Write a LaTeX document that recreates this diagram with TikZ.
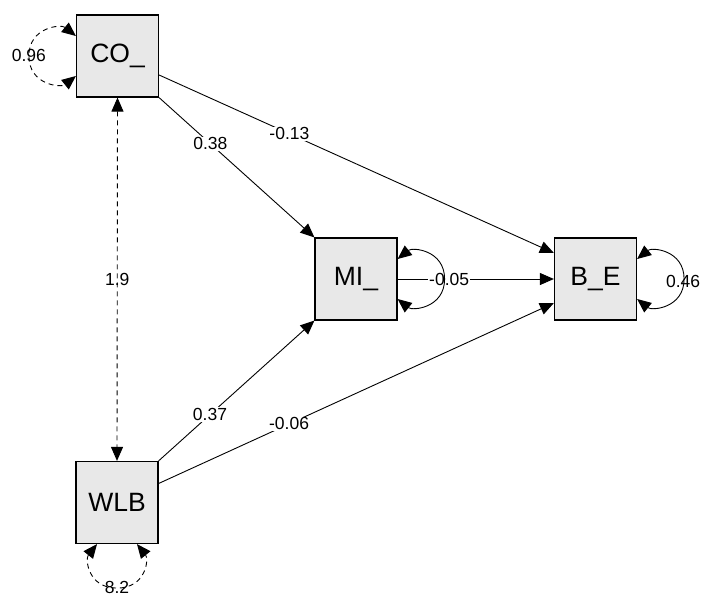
\documentclass[tikz,border=0pt]{standalone}
\usepackage{fontspec}
\setmainfont{Liberation Sans}
\usetikzlibrary{arrows.meta}
\definecolor{boxfill}{RGB}{232,232,232}
\begin{document}
\begin{tikzpicture}[x=1pt,y=-1pt,
  var/.style={draw, line width=1.2pt, fill=boxfill, minimum size=82pt, inner sep=0pt, font=\fontsize{26.5}{30}\selectfont},
  edgeline/.style={line width=0.9pt, -{Triangle[length=14pt,width=12pt]}},
  loopline/.style={line width=0.9pt, {Triangle[length=14pt,width=12pt]}-{Triangle[length=14pt,width=12pt]}},
  dashline/.style={dash pattern=on 5pt off 4pt},
  lbl/.style={font=\fontsize{17.5}{20}\selectfont, fill=white, inner sep=1pt},
  plbl/.style={font=\fontsize{17.5}{20}\selectfont, inner sep=1pt}
]
\useasboundingbox (0,0) rectangle (702,597);
\node[var] (co) at (117.5,56) {CO\_};
\node[var] (wlb) at (117,502.5) {WLB};
\node[var] (mi) at (356,279) {MI\_};
\node[var] (be) at (595.5,279) {B\_E};

\draw[edgeline] (co.south east) -- node[lbl,pos=0.33]{0.38} (mi.north west);
\draw[edgeline] ([yshift=-19pt]co.east) -- node[lbl,pos=0.33]{-0.13} ([yshift=26pt]be.west);
\draw[edgeline] (mi.east) -- node[lbl,pos=0.33]{-0.05} (be.west);
\draw[edgeline] (wlb.north east) -- node[lbl,pos=0.33]{0.37} (mi.south west);
\draw[edgeline] ([yshift=19pt]wlb.east) -- node[lbl,pos=0.33]{-0.06} ([yshift=-24pt]be.west);

\draw[loopline, dashline] (co.south) -- node[plbl,pos=0.5]{1.9} (wlb.north);

% self loops
\draw[loopline] ([shift={(0,-20)}]mi.east) .. controls ([shift={(15,-32)}]mi.east) and ([shift={(47,-29)}]mi.east) .. ([shift={(47,0)}]mi.east)
  .. controls ([shift={(47,29)}]mi.east) and ([shift={(15,32)}]mi.east) .. ([shift={(0,20)}]mi.east);
\node[plbl] (lbe) at ([shift={(46,2)}]be.east) {0.46};
\draw[loopline] ([shift={(0,-20)}]be.east) .. controls ([shift={(15,-32)}]be.east) and ([shift={(47,-29)}]be.east) .. ([shift={(47,0)}]be.east)
  .. controls ([shift={(47,29)}]be.east) and ([shift={(15,32)}]be.east) .. ([shift={(0,20)}]be.east);

\node[plbl] (lco) at ([shift={(-47,-1)}]co.west) {0.96};
\draw[loopline, dashline] ([shift={(0,-20)}]co.west) .. controls ([shift={(-15,-32)}]co.west) and ([shift={(-47,-29)}]co.west) .. ([shift={(-47,0)}]co.west)
  .. controls ([shift={(-47,29)}]co.west) and ([shift={(-15,32)}]co.west) .. ([shift={(0,20)}]co.west);

\node[plbl] (lwlb) at ([shift={(0,43)}]wlb.south) {8.2};
\draw[loopline, dashline] ([shift={(-20,0)}]wlb.south) .. controls ([shift={(-32,15)}]wlb.south) and ([shift={(-29,44)}]wlb.south) .. ([shift={(0,44)}]wlb.south)
  .. controls ([shift={(29,44)}]wlb.south) and ([shift={(32,15)}]wlb.south) .. ([shift={(20,0)}]wlb.south);
\end{tikzpicture}
\end{document}
